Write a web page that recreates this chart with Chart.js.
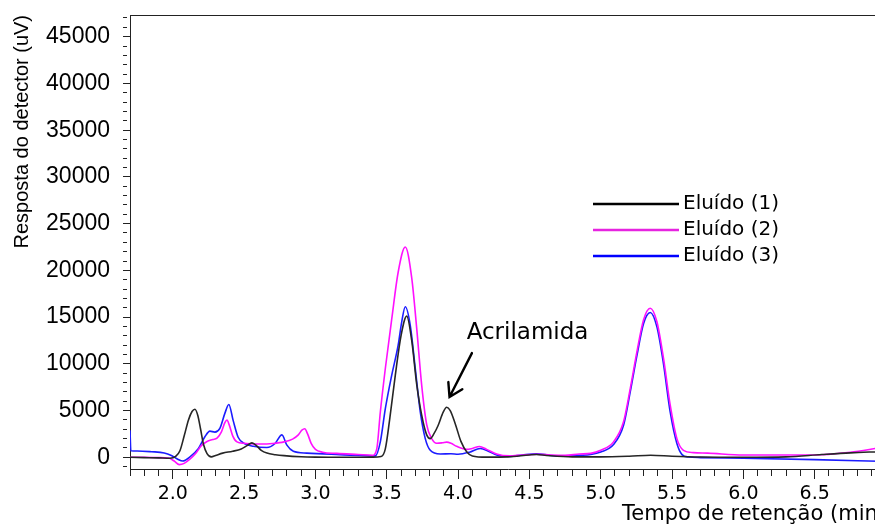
<!DOCTYPE html>
<html>
<head>
<meta charset="utf-8">
<script src="https://cdn.jsdelivr.net/npm/chart.js@4"></script>
<style>
  html, body { margin: 0; padding: 0; background: #fff; overflow: hidden; }
  #wrap { width: 890px; height: 527px; }
</style>
</head>
<body>
<div id="wrap"><canvas id="chromatogram" width="890" height="527"></canvas></div>
<script>
// Eluído (1) - temps (min) et réponse (uV)
const time1 = [1.70, 1.80, 1.90, 1.98, 2.02, 2.05, 2.08, 2.11, 2.135, 2.155, 2.175, 2.195, 2.215, 2.24, 2.27, 2.30, 2.35, 2.42, 2.48, 2.52, 2.555, 2.59, 2.62, 2.66, 2.72, 2.78, 2.90, 3.00, 3.20, 3.40, 3.46, 3.49, 3.52, 3.56, 3.60, 3.64, 3.675, 3.71, 3.745, 3.78, 3.805, 3.83, 3.86, 3.895, 3.92, 3.945, 3.98, 4.02, 4.06, 4.10, 4.20, 4.35, 4.50, 4.55, 4.62, 4.80, 5.00, 5.20, 5.35, 5.50, 5.70, 6.00, 6.30, 6.55, 6.75, 6.95];
const signal1 = [0, -30, -60, -100, 100, 700, 2300, 4000, 4900, 5150, 4500, 3000, 1400, 400, 50, 200, 450, 650, 900, 1250, 1550, 1200, 750, 450, 280, 180, 60, 20, 0, 20, 80, 900, 4000, 8800, 13000, 15100, 12500, 7800, 4500, 2400, 2000, 2500, 3400, 4800, 5350, 5000, 3600, 1700, 600, 150, 20, 50, 250, 300, 200, 50, 50, 120, 220, 120, 30, 0, 50, 300, 480, 600];

// Eluído (2)
const time2 = [1.70, 1.80, 1.90, 1.97, 2.01, 2.045, 2.08, 2.12, 2.16, 2.20, 2.24, 2.28, 2.31, 2.34, 2.365, 2.38, 2.395, 2.42, 2.45, 2.50, 2.56, 2.62, 2.70, 2.78, 2.84, 2.88, 2.905, 2.925, 2.945, 2.97, 3.00, 3.05, 3.15, 3.30, 3.40, 3.43, 3.455, 3.49, 3.535, 3.58, 3.63, 3.675, 3.71, 3.745, 3.78, 3.815, 3.85, 3.89, 3.92, 3.95, 3.99, 4.06, 4.10, 4.15, 4.20, 4.27, 4.36, 4.45, 4.55, 4.65, 4.75, 4.85, 4.93, 5.00, 5.09, 5.16, 5.207, 5.254, 5.30, 5.347, 5.394, 5.44, 5.487, 5.534, 5.58, 5.65, 5.75, 6.00, 6.50, 6.75, 6.95];
const signal2 = [0, 0, -30, -80, -400, -780, -650, -200, 400, 1250, 1700, 1900, 2050, 2700, 3700, 4000, 3500, 2300, 1650, 1500, 1420, 1420, 1480, 1650, 1950, 2400, 2900, 3050, 2500, 1500, 850, 550, 420, 300, 220, 900, 4850, 9500, 14800, 19800, 22500, 19200, 13800, 7700, 3500, 2000, 1500, 1550, 1620, 1500, 1180, 850, 950, 1150, 850, 350, 150, 250, 330, 250, 220, 350, 420, 750, 1650, 3800, 7350, 11300, 14700, 15950, 14500, 10600, 5600, 2000, 750, 500, 450, 250, 250, 550, 1000];

// Eluído (3)
const time3 = [1.700, 1.706, 1.75, 1.85, 1.94, 1.99, 2.035, 2.07, 2.12, 2.18, 2.225, 2.26, 2.295, 2.33, 2.365, 2.393, 2.423, 2.458, 2.505, 2.565, 2.66, 2.715, 2.765, 2.80, 2.845, 2.94, 3.17, 3.42, 3.455, 3.49, 3.535, 3.58, 3.605, 3.63, 3.665, 3.70, 3.735, 3.77, 3.805, 3.875, 3.95, 4.00, 4.08, 4.155, 4.22, 4.27, 4.365, 4.45, 4.55, 4.65, 4.74, 4.86, 4.93, 5.00, 5.09, 5.16, 5.207, 5.254, 5.30, 5.347, 5.394, 5.44, 5.487, 5.534, 5.57, 5.615, 5.70, 6.00, 6.50, 6.95];
const signal3 = [2900, 700, 680, 600, 470, 200, -200, -400, 50, 950, 2200, 2800, 2700, 3100, 4700, 5650, 3950, 2150, 1450, 1180, 1050, 1450, 2400, 1300, 650, 450, 290, 150, 1650, 5200, 8800, 12000, 14500, 16100, 14100, 9500, 4850, 2000, 750, 350, 380, 330, 550, 950, 600, 250, 100, 250, 380, 200, 140, 210, 300, 570, 1360, 3430, 7000, 10900, 14300, 15500, 13950, 10000, 4850, 1470, 290, 30, -30, -100, -250, -420];

const seriesLabels = ['Eluído (1)', 'Eluído (2)', 'Eluído (3)'];
const seriesColors = ['#262626', '#ff10ff', '#1c1cff'];
const legendColors = ['#000000', '#e624e0', '#0000ff'];

// Graduations : étiquettes principales et pas des petites graduations
const xLabels = ['2.0', '2.5', '3.0', '3.5', '4.0', '4.5', '5.0', '5.5', '6.0', '6.5'];
const yLabels = ['0', '5000', '10000', '15000', '20000', '25000', '30000', '35000', '40000', '45000'];
const xMinorStep = 0.1;
const yMinorStep = 1000;

// Annotation du pic d'acrylamide (coordonnées en unités du graphique)
const peakLabel = 'Acrilamida';
const labelAt = [4.06, 13300];
const arrowFrom = [4.097, 11150];
const arrowTo = [3.94, 6450];

const toPoints = (xs, ys) => xs.map((x, i) => ({ x: x, y: ys[i] }));
const allTimes = [time1, time2, time3];
const allSignals = [signal1, signal2, signal3];

const datasets = seriesLabels.map((label, i) => ({
    label: label,
    data: toPoints(allTimes[i], allSignals[i]),
    borderColor: seriesColors[i],
    borderWidth: 1.6,
    pointRadius: 0,
    fill: false,
    cubicInterpolationMode: 'monotone'
}));

// Petites graduations régulières entre min et max
function minorTicks(scale, step) {
    const ticks = [];
    const first = Math.ceil(scale.min / step - 1e-9);
    const last = Math.floor(scale.max / step + 1e-9);
    for (let k = first; k <= last; k++) {
        ticks.push({ value: Math.round(k * step * 1000) / 1000 });
    }
    scale.ticks = ticks;
}

const labelFor = (labels, v) => {
    const found = labels.find(l => Math.abs(parseFloat(l) - v) < 1e-6);
    return found !== undefined ? found : '';
};

// Graduation courte si la valeur n'a pas d'étiquette
const shortTick = (labels, len) => (ctx) => {
    const v = ctx.tick ? ctx.tick.value : 0;
    const major = Math.abs(v % (parseFloat(labels[1]) - parseFloat(labels[0]))) < 1e-6 ||
        labels.some(l => Math.abs(parseFloat(l) - v) < 1e-6);
    return major ? [] : [len, 40];
};

// Légende, cadre et annotation dessinés à la main
const extras = {
    id: 'extras',
    afterDraw(chart) {
        const ctx = chart.ctx;
        const area = chart.chartArea;
        const xs = chart.scales.x;
        const ys = chart.scales.y;
        ctx.save();

        // Cadre du haut
        ctx.strokeStyle = '#222';
        ctx.lineWidth = 1;
        ctx.beginPath();
        ctx.moveTo(area.left, area.top + 0.5);
        ctx.lineTo(area.right, area.top + 0.5);
        ctx.stroke();

        // Légende
        ctx.font = '20px "DejaVu Sans"';
        ctx.textBaseline = 'middle';
        ctx.textAlign = 'left';
        seriesLabels.forEach((label, i) => {
            const y = 204 + i * 26;
            ctx.strokeStyle = legendColors[i];
            ctx.lineWidth = 2.6;
            ctx.beginPath();
            ctx.moveTo(593, y);
            ctx.lineTo(679, y);
            ctx.stroke();
            ctx.fillStyle = '#000';
            ctx.fillText(label, 683, y);
        });

        // Texte + flèche
        ctx.font = '23px "DejaVu Sans"';
        ctx.fillStyle = '#000';
        ctx.fillText(peakLabel, xs.getPixelForValue(labelAt[0]), ys.getPixelForValue(labelAt[1]));

        const x0 = xs.getPixelForValue(arrowFrom[0]), y0 = ys.getPixelForValue(arrowFrom[1]);
        const x1 = xs.getPixelForValue(arrowTo[0]), y1 = ys.getPixelForValue(arrowTo[1]);
        const ang = Math.atan2(y1 - y0, x1 - x0);
        ctx.strokeStyle = '#000';
        ctx.lineWidth = 2.4;
        ctx.lineCap = 'round';
        ctx.beginPath();
        ctx.moveTo(x0, y0);
        ctx.lineTo(x1, y1);
        ctx.moveTo(x1 - 15 * Math.cos(ang - 0.55), y1 - 15 * Math.sin(ang - 0.55));
        ctx.lineTo(x1, y1);
        ctx.lineTo(x1 - 15 * Math.cos(ang + 0.55), y1 - 15 * Math.sin(ang + 0.55));
        ctx.stroke();

        ctx.restore();
    }
};

new Chart(document.getElementById('chromatogram'), {
    type: 'line',
    data: { datasets: datasets },
    plugins: [extras],
    options: {
        responsive: false,
        animation: false,
        layout: { padding: { top: 15, right: 4, left: 0, bottom: 0 } },
        plugins: {
            legend: { display: false },
            tooltip: { enabled: false }
        },
        scales: {
            x: {
                type: 'linear',
                min: 1.7,
                max: 7.0,
                afterBuildTicks: (s) => minorTicks(s, xMinorStep),
                afterFit: (s) => { s.height = 58; s.paddingLeft = 0; s.paddingRight = 0; },
                border: { display: true, color: '#222', width: 1 },
                grid: {
                    drawOnChartArea: false,
                    tickLength: 10,
                    tickColor: '#222',
                    tickBorderDash: shortTick(xLabels, 6)
                },
                ticks: {
                    autoSkip: false,
                    maxRotation: 0,
                    padding: 4,
                    color: '#000',
                    font: { family: 'DejaVu Sans', size: 19 },
                    callback: (v) => labelFor(xLabels, v)
                },
                title: {
                    display: true,
                    text: 'Tempo de retenção (min)',
                    align: 'end',
                    color: '#000',
                    padding: { top: 0, bottom: 0 },
                    font: { family: 'DejaVu Sans', size: 21 }
                }
            },
            y: {
                type: 'linear',
                min: -1250,
                max: 47320,
                afterBuildTicks: (s) => minorTicks(s, yMinorStep),
                afterFit: (s) => { s.width = 130; s.paddingTop = 0; s.paddingBottom = 0; },
                border: { display: true, color: '#222', width: 1 },
                grid: {
                    drawOnChartArea: false,
                    tickLength: 7,
                    tickColor: '#222',
                    tickBorderDash: shortTick(yLabels, 4)
                },
                ticks: {
                    autoSkip: false,
                    crossAlign: 'near',
                    padding: 13,
                    color: '#000',
                    font: { family: 'Liberation Sans', size: 23 },
                    callback: (v) => labelFor(yLabels, v)
                },
                title: {
                    display: true,
                    text: 'Resposta do detector (uV)',
                    align: 'end',
                    color: '#000',
                    padding: { top: 10, bottom: 0 },
                    font: { family: 'Liberation Sans', size: 20 }
                }
            }
        }
    }
});
</script>
</body>
</html>
